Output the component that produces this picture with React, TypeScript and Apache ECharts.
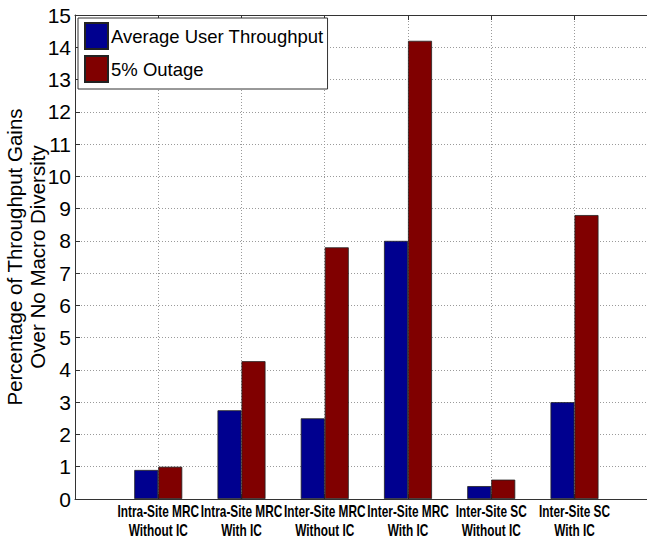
import React, { useEffect, useRef } from "react";
import * as echarts from "echarts";

const categories: string[] = [
  "Intra-Site MRC\nWithout IC",
  "Intra-Site MRC\nWith IC",
  "Inter-Site MRC\nWithout IC",
  "Inter-Site MRC\nWith IC",
  "Inter-Site SC\nWithout IC",
  "Inter-Site SC\nWith IC",
];
const avgThroughput: number[] = [0.9, 2.75, 2.5, 8.0, 0.4, 3.0];
const outage5: number[] = [1.0, 4.27, 7.8, 14.2, 0.6, 8.8];
const seriesNames: string[] = ["Average User Throughput", "5% Outage"];
const yTicks = { min: 0, max: 15, interval: 1 };
// x range shown (the plot is cropped on the right edge in the reference)
const xRange = { min: 0, max: 6.895, interval: 1 };

export default function App() {
  const ref = useRef<HTMLDivElement>(null);
  useEffect(() => {
    if (!ref.current) return;
    const chart = echarts.init(ref.current, undefined, { renderer: "svg" });
    const pos = (arr: number[]) => arr.map((v, i) => [i + 1, v]);
    const gridLine = { show: true, lineStyle: { color: "#9a9a9a", type: [1, 2] as any, width: 1 } };
    chart.setOption({
      animation: false,
      backgroundColor: "#ffffff",
      grid: {
        left: 75,
        top: 15,
        bottom: 43,
        right: -2,
        outerBoundsMode: "none",
        containLabel: false,
        show: false,
      },
      legend: {
        show: true,
        orient: "vertical",
        left: 78,
        top: 18,
        data: seriesNames,
        icon: "rect",
        itemWidth: 23,
        itemHeight: 26,
        itemGap: 5,
        padding: [4, 4, 6, 6],
        borderColor: "#333",
        borderWidth: 1,
        backgroundColor: "#ffffff",
        textStyle: {
          fontFamily: "Liberation Sans, Arial, sans-serif",
          fontSize: 18.5,
          color: "#000",
          padding: [0, 0, 0, -2],
        },
      },
      xAxis: [
        {
          type: "value",
          min: xRange.min,
          max: xRange.max,
          interval: xRange.interval,
          axisLine: { show: true, lineStyle: { color: "#333", width: 1 } },
          axisTick: { show: true, inside: true, length: 5, lineStyle: { color: "#333" } },
          splitLine: gridLine,
          axisLabel: { show: false },
        },
        {
          type: "value",
          position: "top",
          min: xRange.min,
          max: xRange.max,
          interval: xRange.interval,
          axisLine: { show: true, lineStyle: { color: "#333", width: 1 } },
          axisTick: { show: true, inside: true, length: 5, lineStyle: { color: "#333" } },
          splitLine: { show: false },
          axisLabel: { show: false },
        },
      ],
      yAxis: {
        type: "value",
        min: yTicks.min,
        max: yTicks.max,
        interval: yTicks.interval,
        name: "Percentage of Throughput Gains\nOver No Macro Diversity",
        nameLocation: "middle",
        nameGap: 26,
        nameMoveOverlap: false,
        nameTextStyle: {
          fontFamily: "Liberation Sans, Arial, sans-serif",
          fontSize: 20.5,
          lineHeight: 23,
          color: "#000",
        },
        axisLine: { show: true, lineStyle: { color: "#333", width: 1 } },
        axisTick: { show: true, inside: true, length: 5, lineStyle: { color: "#333" } },
        splitLine: gridLine,
        axisLabel: {
          margin: 4,
          fontFamily: "Liberation Sans, Arial, sans-serif",
          fontSize: 21,
          color: "#000",
        },
      },
      series: [
        {
          name: seriesNames[0],
          type: "bar",
          data: pos(avgThroughput),
          barWidth: 24,
          barGap: "0%",
          itemStyle: { color: "#00008f", borderColor: "#222", borderWidth: 0.8 },
        },
        {
          name: seriesNames[1],
          type: "bar",
          data: pos(outage5),
          barWidth: 24,
          barGap: "0%",
          itemStyle: { color: "#800000", borderColor: "#222", borderWidth: 0.8 },
        },
      ],
    });
    const y0 = chart.convertToPixel({ yAxisIndex: 0 }, 0) as number;
    const labels = categories.map((c, i) => {
      const x = chart.convertToPixel({ xAxisIndex: 0 }, i + 1) as number;
      return {
        type: "text",
        x,
        y: y0 + 3,
        scaleX: 0.74,
        silent: true,
        style: {
          text: c,
          align: "center",
          verticalAlign: "top",
          fontFamily: "Liberation Sans, Arial, sans-serif",
          fontWeight: "bold",
          fontSize: 16,
          lineHeight: 19,
          fill: "#000",
        },
      };
    });
    chart.setOption({ graphic: labels });
    return () => chart.dispose();
  }, []);
  return (
    <div
      ref={ref}
      style={{ position: "fixed", left: 0, top: 0, width: 647, height: 542, background: "#fff" }}
    />
  );
}
